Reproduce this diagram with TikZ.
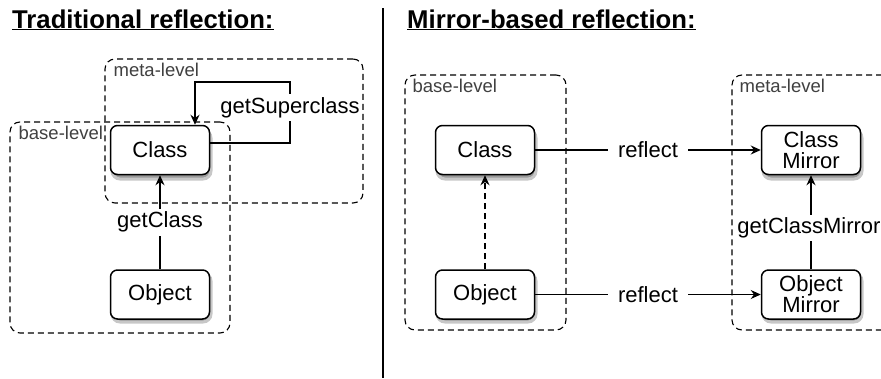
\documentclass[tikz,border=0pt]{standalone}
\usepackage{fontspec}
\setmainfont{Liberation Sans}
\usepackage{tikz}
\usetikzlibrary{arrows.meta, positioning}

\begin{document}
\begin{tikzpicture}[
            x=1pt, y=-1pt,
            font=\fontsize{22}{21}\selectfont,
            obj/.style={draw, line width=1.5pt, rounded corners=7pt, fill=white, align=center, minimum width=99pt, minimum height=49pt, inner sep=1pt},
            boxshadow/.style={draw=black!22, line width=3pt, fill=black!40, rounded corners=8pt},
            level/.style={draw, line width=1.1pt, dash pattern=on 6pt off 4pt, rounded corners=10pt},
            levellabel/.style={anchor=base west, inner sep=0pt, font=\fontsize{18.5}{18.5}\selectfont, text=black!75},
            title/.style={anchor=base west, inner sep=0pt, font=\fontsize{25.7}{25.7}\selectfont\bfseries},
            lbl/.style={fill=white, inner xsep=2pt, inner ysep=3pt},
            arrow/.style={-{Stealth[length=10pt, width=9pt]}, line width=1.2pt}
        ]
            \useasboundingbox (0,0) rectangle (881,378);

            % shadows under the boxes
            \path[boxshadow] (112,130) rectangle (211,179);
            \path[boxshadow] (112,273) rectangle (211,322);
            \path[boxshadow] (437,130) rectangle (536,179);
            \path[boxshadow] (437,273) rectangle (536,322);
            \path[boxshadow] (763,130) rectangle (862,179);
            \path[boxshadow] (763,273) rectangle (862,322);

            % traditional reflection
            \node[title] (ltitle) at (12,28) {\underline{Traditional reflection:}};
            \node[level, minimum width=258pt, minimum height=144pt] (lmeta) at (234,131) {};
            \node[level, minimum width=220pt, minimum height=211pt] (lbase) at (120,227.5) {};
            \node[levellabel] (lmetalabel) at ([xshift=9pt, yshift=-18pt]lmeta.north west) {meta-level};
            \node[levellabel] (lbaselabel) at ([xshift=9pt, yshift=-18pt]lbase.north west) {base-level};

            \node[obj] (lcls) at (160,150) {Class};
            \node[obj, below=94pt of lcls.south, anchor=north] (lobj) {Object};
            \coordinate (loop) at (290,82);

            \draw[arrow] (lobj) -- node[lbl] {getClass} (lcls);
            \draw[arrow] ([yshift=7pt]lcls.east) -| node[lbl, pos=0.79, inner xsep=1pt] {getSuperclass} (loop) -| ([xshift=35pt]lcls.north);

            % separator
            \coordinate (septop) at (383,8);
            \coordinate (sepbot) at (383,378);
            \draw[line width=1.2pt] (septop) -- (sepbot);

            % mirror-based reflection
            \node[title] (rtitle) at (407,28) {\underline{Mirror-based reflection:}};
            \node[level, minimum width=161pt, minimum height=255pt] (rbase) at (485.5,202.5) {};
            \node[level, minimum width=170pt, minimum height=255pt] (rmeta) at (817,202.5) {};
            \node[levellabel] (rbaselabel) at ([xshift=8pt, yshift=-18pt]rbase.north west) {base-level};
            \node[levellabel] (rmetalabel) at ([xshift=8pt, yshift=-18pt]rmeta.north west) {meta-level};

            \node[obj] (rcls) at (485,150) {Class};
            \node[obj, below=94pt of rcls.south, anchor=north] (robj) {Object};
            \node[obj] (rclsm) at (811,150) {Class\\Mirror};
            \node[obj, below=94pt of rclsm.south, anchor=north] (robjm) {Object\\Mirror};

            \draw[arrow, dash pattern=on 6pt off 4pt] (robj) -- (rcls);
            \draw[arrow] (rcls) -- node[lbl, inner xsep=10pt] {reflect} (rclsm);
            \draw[arrow] (robj) -- node[lbl, inner xsep=10pt] {reflect} (robjm);
            \draw[arrow] (robjm) -- node[lbl, pos=0.44, xshift=-2pt, inner xsep=0pt] {getClassMirror} (rclsm);
        \end{tikzpicture}
\end{document}
